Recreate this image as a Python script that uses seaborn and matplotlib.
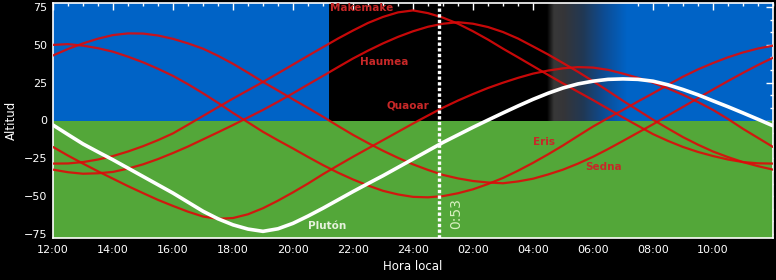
import numpy as np
import pandas as pd
import matplotlib
matplotlib.use("Agg")
import matplotlib.pyplot as plt
import seaborn as sns
from matplotlib.ticker import MultipleLocator, FixedLocator, FixedFormatter

# ---------------- data (every 30 min) ----------------
hours = [12 + 0.5 * i for i in range(49)]  # 12:00 .. 12:00 next day

makemake = [-28.5, -28.4, -27.5, -25.8, -23.5, -20.5, -17, -13, -8.5, -2.8, 3, 8.8,
            14.5, 20, 25.5, 31.2, 37, 42.8, 48.5, 54.2, 59.5, 64.5, 68.5, 71.5, 72.8,
            71, 68, 64, 59, 53.5, 47.5, 41.8, 36, 30.2, 24.5, 19, 13.5, 7.8, 2, -3.5,
            -9, -13.5, -17.5, -20.8, -23.5, -25.8, -27.5, -28.3, -28.5]
haumea = [-32.5, -34.2, -35.2, -34.9, -34, -31.8, -29, -25.5, -21.5, -17.2, -12.5, -7.8,
          -3, 2, 7, 12.4, 18, 23.8, 29.5, 35.3, 41, 46.2, 51, 55.3, 59,
          62, 64, 65, 64, 61.8, 58.5, 54.2, 49, 43.7, 38, 32.2, 26, 19.6, 13, 6.8,
          0.5, -5.3, -11, -16, -20.5, -24.2, -27.5, -30.2, -32.5]
quaoar = [-17.5, -23.2, -28.5, -33.6, -38.5, -43.4, -48, -52.5, -56.5, -60.3, -63.5, -65,
          -64.5, -62, -58, -53, -47.5, -41.7, -35.5, -29.7, -24, -18.5, -13, -7.5, -2,
          3.3, 8.5, 13.2, 17.5, 21.5, 25, 28.2, 31, 33, 34.5, 35.3, 35, 33.5, 31, 28.2,
          25, 21.2, 17, 12.2, 7, 1, -5.5, -11.5, -17.5]
eris = [50, 50.5, 49.5, 47.8, 45.5, 42.2, 38.5, 34.2, 29.5, 24, 18, 11.7,
        5, -1.2, -7.5, -13.1, -18.5, -24.1, -29.5, -34.5, -39, -43, -46.5, -48.9, -50.5,
        -50.8, -50, -48.1, -45.5, -42, -38, -33.2, -28, -22.4, -16.5, -10.2, -4, 1.6, 7, 12.6,
        18, 23.6, 29, 33.8, 38, 41.8, 45, 47.6, 49.5]
sedna = [43, 47.3, 51, 54.1, 56.5, 57.6, 57.5, 56.2, 54, 51, 47.5, 42.8,
         37.5, 31.6, 25.5, 19.8, 14, 8.3, 2.5, -3.6, -9.5, -14.9, -20, -24.7, -29,
         -32.7, -36, -38.3, -40, -41, -41.5, -40.3, -38.5, -35.7, -32.5, -28.5, -24, -18.9, -13.5, -8,
         -2.5, 3.3, 9, 14.8, 20.5, 26.1, 31.5, 36.7, 41.5]
pluton = [-3, -9.3, -15.5, -20.8, -26, -31.5, -37, -42.5, -48, -54, -60, -65,
          -69, -71.8, -73.3, -71.6, -68, -63.2, -58, -52.5, -47, -41.7, -36.5, -31, -25.5,
          -20, -14.5, -9.5, -4.5, 0.3, 5, 9.6, 14, 18, 21.5, 24.2, 26, 27.2, 27.5, 27.2,
          26, 23.6, 20.5, 17, 13, 9.1, 5, 0.8, -3.5]

names = ["Makemake", "Haumea", "Quaoar", "Eris", "Sedna", "Plutón"]
series = [makemake, haumea, quaoar, eris, sedna, pluton]

xtick_pos = list(range(12, 36, 2))
xtick_labels = ["12:00", "14:00", "16:00", "18:00", "20:00", "22:00",
                "24:00", "02:00", "04:00", "06:00", "08:00", "10:00"]
ytick_pos = [-75, -50, -25, 0, 25, 50, 75]

now_hour = 24.883   # 0:53
now_label = "0:53"

# ---------------- styling ----------------
sns.set_theme(style="dark")
plt.rcParams["font.family"] = ["DejaVu Sans"]

SKY = "#0063c6"
GROUND = "#53a739"
RED = "#dd0a0a"
LABEL_RED = "#c82828"

YMAX = 77.7
night_start, night_end, dawn_end = 21.2, 28.45, 31.1

fig = plt.figure(figsize=(7.76, 2.8), dpi=100, facecolor="black")
ax = fig.add_axes([53 / 776, 42 / 280, 720 / 776, 235 / 280])
ax.set_facecolor("black")

# background: sky, night, twilight gradient, then ground on top
ax.axhspan(0, YMAX, color=SKY, zorder=0, lw=0)
ax.axvspan(night_start, night_end, ymin=0.49, ymax=1, color="black", zorder=0.5, lw=0)

sky_rgb = matplotlib.colors.to_rgb(SKY)
stop_h = [night_end, 28.68, 29.0, 29.65, 30.35, dawn_end]
stop_c = [(0, 0, 0), (0.22, 0.22, 0.22), (0.21, 0.21, 0.22), (0.13, 0.22, 0.33),
          (0.05, 0.30, 0.58), sky_rgb]
xs = np.linspace(night_end, dawn_end, 400)
grad = np.stack([np.interp(xs, stop_h, [c[i] for c in stop_c]) for i in range(3)], -1)[None, :, :]
ax.imshow(grad, extent=[night_end, dawn_end, -1, YMAX], aspect="auto", zorder=0.6,
          interpolation="bilinear")
ax.axhspan(-YMAX, 0, color=GROUND, zorder=0.8, lw=0)

# ---------------- lines ----------------
df = pd.DataFrame({
    "hora": hours * len(names),
    "alt": sum(series, []),
    "objeto": np.repeat(names, len(hours)),
})
reds = df[df["objeto"] != "Plutón"]
sns.lineplot(data=reds, x="hora", y="alt", hue="objeto",
             palette={n: RED for n in names[:5]}, lw=1.6, alpha=0.9,
             legend=False, estimator=None, sort=False, ax=ax, zorder=3)
sns.lineplot(data=df[df["objeto"] == "Plutón"], x="hora", y="alt", color="white",
             lw=2.6, estimator=None, sort=False, ax=ax, zorder=4)

# current time marker
ax.axvline(now_hour, color="white", lw=2.4, ls=(0, (1, 0.7)), zorder=5)
ax.text(25.45, -61.8, now_label, rotation=90, ha="center", va="center",
        color="#d8f0c0", fontsize=10,
        family=["Liberation Sans Narrow", "DejaVu Sans"], zorder=6)

# object labels
lab_kw = dict(fontsize=7.5, fontweight="bold", ha="left", va="center", zorder=6)
ax.text(21.23, 74.5, "Makemake", color=LABEL_RED, **lab_kw)
ax.text(22.23, 38.9, "Haumea", color=LABEL_RED, **lab_kw)
ax.text(23.12, 9.6, "Quaoar", color=LABEL_RED, **lab_kw)
ax.text(28.0, -14.4, "Eris", color=LABEL_RED, **lab_kw)
ax.text(29.73, -30.5, "Sedna", color=LABEL_RED, **lab_kw)
ax.text(20.5, -69.7, "Plutón", color="#e6f2dc", **lab_kw)

# ---------------- axes ----------------
ax.set_xlim(12, 36)
ax.set_ylim(-YMAX, YMAX)
ax.xaxis.set_major_locator(FixedLocator(xtick_pos))
ax.xaxis.set_major_formatter(FixedFormatter(xtick_labels))
ax.xaxis.set_minor_locator(MultipleLocator(0.5))
ax.yaxis.set_major_locator(FixedLocator(ytick_pos))
ax.yaxis.set_minor_locator(MultipleLocator(25 / 3))

ax.tick_params(which="both", direction="in", colors="white", top=True, right=True,
               labelsize=8, labelcolor="white")
ax.tick_params(which="major", length=5, width=1)
ax.tick_params(which="minor", length=2.5, width=1)
ax.tick_params(axis="x", pad=5)
ax.tick_params(axis="y", pad=4)
for s in ax.spines.values():
    s.set_color("white")
    s.set_linewidth(1.2)
    s.set_visible(True)
ax.grid(False)

ax.set_xlabel("Hora local", color="white", fontsize=8.5, labelpad=4)
ax.set_ylabel("Altitud", color="white", fontsize=8.5, labelpad=4)

fig.savefig("out.png", dpi=100, facecolor="black")
